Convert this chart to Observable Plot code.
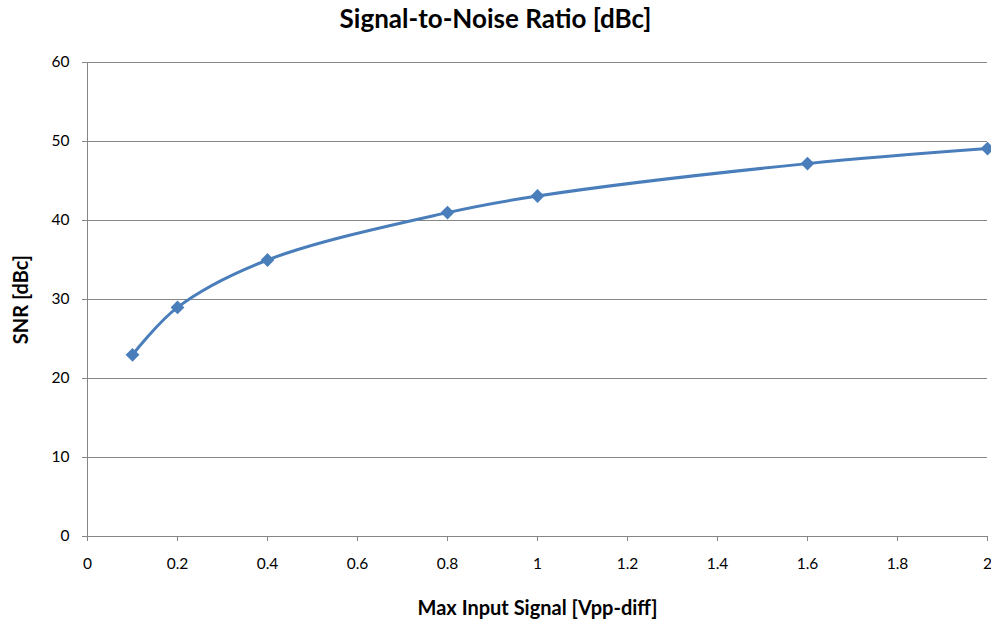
<!DOCTYPE html>
<html>
<head>
<meta charset="utf-8">
<script src="https://cdn.jsdelivr.net/npm/d3@7"></script>
<script src="https://cdn.jsdelivr.net/npm/@observablehq/plot@0.6"></script>
<style>
  html, body { margin: 0; padding: 0; background: #fff; }
  #wrap { width: 991px; height: 620px; position: relative; font-family: Lato, "Open Sans", sans-serif; }
  #title { position: absolute; left: 0; top: 0; width: 991px; text-align: center; font-weight: bold; font-size: 26px; line-height: 36px; color: #000; }
  #chart { position: absolute; left: 0; top: 0; }
</style>
</head>
<body>
<div id="wrap">
  <div id="chart"></div>
  <div id="title">Signal-to-Noise Ratio [dBc]</div>
</div>
<script>
const inputSignal = [0.1, 0.2, 0.4, 0.8, 1.0, 1.6, 2.0];
const snr = [23.0, 29.0, 35.0, 41.0, 43.1, 47.2, 49.1];
const xTicks = [0, 0.2, 0.4, 0.6, 0.8, 1, 1.2, 1.4, 1.6, 1.8, 2];
const yTicks = [0, 10, 20, 30, 40, 50, 60];

const data = inputSignal.map((x, i) => ({x, y: snr[i]}));
const lineColor = "#4a7ebb";
const gridColor = "#868686";

const chart = Plot.plot({
  width: 991,
  height: 620,
  marginLeft: 87,
  marginRight: 4,
  marginTop: 62,
  marginBottom: 84,
  style: {fontFamily: "Lato, 'Open Sans', sans-serif", fontSize: "15px", color: "#000", background: "transparent"},
  x: {domain: [0, 2], ticks: xTicks, tickFormat: d => String(d)},
  y: {domain: [0, 60], ticks: yTicks},
  marks: [
    Plot.ruleY(yTicks.filter(d => d > 0), {stroke: gridColor, strokeWidth: 1}),
    Plot.axisX({ticks: xTicks, tickSize: 5, tickPadding: 16, stroke: gridColor, fill: "#000",
      tickFormat: d => String(d),
      label: "Max Input Signal [Vpp-diff]", labelAnchor: "center", labelArrow: "none", labelOffset: 78}),
    Plot.axisY({ticks: yTicks, tickSize: 5, tickPadding: 13, stroke: gridColor, fill: "#000",
      label: "SNR [dBc]", labelAnchor: "center", labelArrow: "none", labelOffset: 74}),
    Plot.ruleX([0], {stroke: gridColor, strokeWidth: 1}),
    Plot.ruleY([0], {stroke: gridColor, strokeWidth: 1}),
    Plot.line(data, {x: "x", y: "y", stroke: lineColor, strokeWidth: 3, curve: "catmull-rom"}),
    Plot.dot(data, {x: "x", y: "y", symbol: "square", rotate: 45, fill: lineColor, r: 5.5, stroke: "none"})
  ]
});

d3.select(chart).selectAll("[aria-label='x-axis tick label'] text, [aria-label='y-axis tick label'] text")
  .style("font-size", "15.5px");
d3.select(chart).selectAll("[aria-label='x-axis label'] text, [aria-label='y-axis label'] text")
  .style("font-weight", "bold").style("font-size", "20px");

document.getElementById("chart").appendChild(chart);
</script>
</body>
</html>
